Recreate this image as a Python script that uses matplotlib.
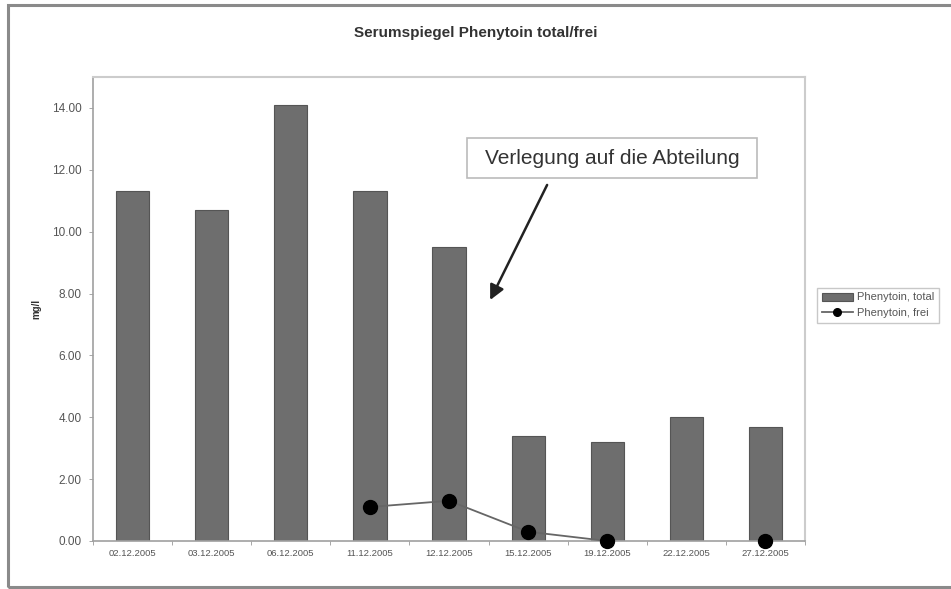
import numpy as np
import matplotlib
matplotlib.use("Agg")
import matplotlib.pyplot as plt
from matplotlib.patches import Rectangle

plt.rcParams['font.family'] = ['Liberation Sans', 'DejaVu Sans']

# Messwerte
dates = ["02.12.2005", "03.12.2005", "06.12.2005", "11.12.2005", "12.12.2005",
         "15.12.2005", "19.12.2005", "22.12.2005", "27.12.2005"]
total = [11.3, 10.7, 14.1, 11.3, 9.5, 3.4, 3.2, 4.0, 3.7]
frei = [np.nan, np.nan, np.nan, 1.1, 1.3, 0.3, 0.0, np.nan, 0.0]
yticks = [0, 2, 4, 6, 8, 10, 12, 14]

fig = plt.figure(figsize=(9.51, 5.89), dpi=100)
ax = fig.add_axes([0.0978, 0.0815, 0.7487, 0.7878])

# Rahmen um die ganze Grafik
fig.patches.append(Rectangle((8 / 951, 2 / 589), 1.0, 582 / 589, transform=fig.transFigure,
                             fill=False, edgecolor='#8a8a8a', linewidth=2.2))

x = np.arange(len(dates))
bars = ax.bar(x, total, width=0.42, color='#6e6e6e', edgecolor='#555555', linewidth=0.8,
              label='Phenytoin, total', zorder=2)
line, = ax.plot(x, frei, color='#666666', linewidth=1.3, marker='o', markersize=10,
                markerfacecolor='black', markeredgecolor='black', label='Phenytoin, frei',
                zorder=3, clip_on=False)

ax.set_xlim(-0.5, len(dates) - 0.5)
ax.set_ylim(0, 15)
ax.set_yticks(yticks)
ax.set_yticklabels([f"{v:.2f}" for v in yticks], fontsize=8.5, color='#555555')
ax.set_xticks(x)
ax.set_xticklabels(dates, fontsize=6.8, color='#555555')
ax.tick_params(axis='x', length=0, pad=6)
ax.tick_params(axis='y', length=3, width=0.6, color='#999999', pad=5)
ax.set_xticks(np.arange(-0.5, len(dates)), minor=True)
ax.tick_params(axis='x', which='minor', length=3, width=0.6, color='#999999')

for side in ['top', 'right']:
    ax.spines[side].set_color('#cccccc')
    ax.spines[side].set_linewidth(1.5)
for side in ['left', 'bottom']:
    ax.spines[side].set_color('#a0a0a0')
    ax.spines[side].set_linewidth(1.2)

ax.set_ylabel('mg/l', fontsize=7, fontweight='bold', color='#333333', labelpad=8)
fig.text(0.5, 0.944, 'Serumspiegel Phenytoin total/frei', ha='center', va='center',
         fontsize=11, fontweight='bold', color='#333333')

# Hinweis auf die Verlegung
ax.add_patch(Rectangle((4.23, 11.74), 3.66, 1.29, facecolor='white', edgecolor='#bbbbbb',
                       linewidth=1.2, zorder=4))
ax.text(6.06, 12.38, 'Verlegung auf die Abteilung', ha='center', va='center',
        fontsize=15, color='#333333', zorder=5)
ax.annotate('', xy=(4.52, 7.79), xytext=(5.24, 11.51),
            arrowprops=dict(arrowstyle='-|>', color='#222222', lw=1.8, mutation_scale=22,
                            shrinkA=0, shrinkB=0))

leg = fig.legend([bars, line], ['Phenytoin, total', 'Phenytoin, frei'],
                 loc='center left', bbox_to_anchor=(811 / 951, 1 - 305 / 589),
                 fontsize=8, frameon=True, fancybox=False, edgecolor='#bbbbbb',
                 handlelength=2.8, handletextpad=0.4, borderpad=0.45, labelspacing=0.45,
                 labelcolor='#555555', markerscale=0.55)
leg.get_frame().set_linewidth(1.0)

fig.savefig('out.png', dpi=100)
